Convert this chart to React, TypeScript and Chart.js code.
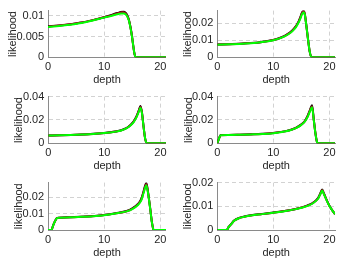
import React, { useEffect, useRef } from 'react';
import { Chart, registerables } from 'chart.js';
Chart.register(...registerables);

// ---------- data ----------
const xTickValues = [0, 10, 20];
const xMax = 21;

const depth1 = [0, 2, 4, 6, 8, 10, 11, 12, 12.6, 13.1, 13.5, 13.8, 14.1, 14.4, 14.7, 15, 15.2, 15.4, 15.6, 16, 21];
const green1 = [0.0073, 0.0076, 0.0079, 0.0083, 0.0089, 0.0096, 0.0099, 0.0103, 0.0105, 0.0106, 0.0106, 0.0104, 0.0099, 0.0089, 0.0070, 0.0045, 0.0025, 0.0008, 0.0001, 0, 0];
const red1 = [0.0074, 0.0077, 0.0080, 0.0084, 0.0090, 0.0097, 0.0100, 0.0105, 0.0107, 0.0109, 0.0109, 0.0106, 0.0100, 0.0090, 0.0071, 0.0046, 0.0025, 0.0008, 0.0001, 0, 0];
const black1 = [0.0075, 0.0077, 0.0080, 0.0084, 0.0090, 0.0097, 0.0101, 0.0106, 0.0108, 0.0110, 0.0111, 0.0108, 0.0102, 0.0091, 0.0072, 0.0046, 0.0025, 0.0008, 0.0001, 0, 0];

const depth2 = [0, 2, 4, 6, 8, 10, 11, 12, 13, 13.5, 14, 14.5, 14.8, 15.1, 15.4, 15.6, 15.9, 16.2, 16.5, 16.8, 21];
const green2 = [0.0074, 0.0076, 0.0078, 0.0082, 0.0089, 0.0100, 0.0109, 0.0122, 0.0142, 0.0156, 0.0175, 0.0203, 0.0225, 0.0252, 0.0264, 0.0250, 0.0180, 0.0100, 0.0030, 0, 0];
const red2 = [0.0075, 0.0076, 0.0079, 0.0083, 0.0090, 0.0101, 0.0110, 0.0124, 0.0144, 0.0159, 0.0179, 0.0207, 0.0230, 0.0258, 0.0269, 0.0253, 0.0181, 0.0100, 0.0030, 0, 0];
const black2 = [0.0075, 0.0077, 0.0079, 0.0083, 0.0090, 0.0101, 0.0111, 0.0125, 0.0146, 0.0161, 0.0181, 0.0210, 0.0233, 0.0261, 0.0272, 0.0255, 0.0182, 0.0101, 0.0030, 0, 0];

const depth3 = [0, 2, 4, 6, 8, 10, 11, 12, 13, 14, 14.6, 15.2, 15.7, 16.1, 16.45, 16.7, 17, 17.3, 17.6, 21];
const green3 = [0.0066, 0.0068, 0.0071, 0.0075, 0.0080, 0.0088, 0.0093, 0.0100, 0.0110, 0.0130, 0.0150, 0.0180, 0.0220, 0.0265, 0.0305, 0.0260, 0.0140, 0.0035, 0, 0];
const red3 = [0.0066, 0.0068, 0.0071, 0.0075, 0.0080, 0.0088, 0.0093, 0.0101, 0.0111, 0.0131, 0.0152, 0.0183, 0.0224, 0.0271, 0.0314, 0.0265, 0.0142, 0.0035, 0, 0];
const black3 = [0.0066, 0.0068, 0.0071, 0.0075, 0.0081, 0.0089, 0.0094, 0.0101, 0.0112, 0.0132, 0.0154, 0.0185, 0.0227, 0.0275, 0.0320, 0.0268, 0.0143, 0.0036, 0, 0];

const depth4 = [0, 0.3, 0.6, 2, 4, 6, 8, 10, 12, 13, 14, 15, 15.6, 16.1, 16.5, 16.9, 17.2, 17.5, 17.8, 18, 21];
const green4 = [0, 0.0040, 0.0070, 0.0071, 0.0073, 0.0076, 0.0080, 0.0087, 0.0101, 0.0112, 0.0130, 0.0158, 0.0185, 0.0225, 0.0270, 0.0308, 0.0200, 0.0085, 0.0008, 0, 0];
const red4 = [0, 0.0040, 0.0070, 0.0071, 0.0073, 0.0076, 0.0080, 0.0088, 0.0102, 0.0113, 0.0131, 0.0160, 0.0188, 0.0230, 0.0277, 0.0318, 0.0205, 0.0087, 0.0008, 0, 0];
const black4 = [0, 0.0040, 0.0071, 0.0072, 0.0074, 0.0077, 0.0081, 0.0088, 0.0102, 0.0114, 0.0133, 0.0162, 0.0191, 0.0234, 0.0282, 0.0326, 0.0208, 0.0088, 0.0008, 0, 0];

const depth5 = [0, 0.6, 0.9, 1.2, 1.6, 2, 4, 6, 8, 10, 12, 14, 15, 16, 16.6, 17, 17.5, 17.8, 18.2, 18.5, 18.8, 21];
const green5 = [0, 0, 0.0025, 0.0050, 0.0072, 0.0074, 0.0077, 0.0080, 0.0084, 0.0090, 0.0100, 0.0113, 0.0127, 0.0152, 0.0180, 0.0223, 0.0272, 0.0225, 0.0125, 0.0045, 0, 0];
const red5 = [0, 0, 0.0025, 0.0050, 0.0072, 0.0074, 0.0077, 0.0080, 0.0084, 0.0091, 0.0101, 0.0114, 0.0129, 0.0155, 0.0185, 0.0229, 0.0280, 0.0229, 0.0127, 0.0046, 0, 0];
const black5 = [0, 0, 0.0026, 0.0051, 0.0073, 0.0075, 0.0078, 0.0081, 0.0085, 0.0091, 0.0102, 0.0115, 0.0131, 0.0158, 0.0189, 0.0234, 0.0286, 0.0232, 0.0128, 0.0046, 0, 0];

const depth6 = [0, 1.7, 2, 2.5, 3, 4, 5, 6, 8, 10, 12, 14, 16, 17, 18, 18.4, 18.7, 19, 19.5, 20, 20.5, 21];
const green6 = [0, 0, 0.0012, 0.0025, 0.0039, 0.0051, 0.0057, 0.0061, 0.0067, 0.0073, 0.0079, 0.0088, 0.0101, 0.0112, 0.0133, 0.0152, 0.0167, 0.0152, 0.0125, 0.0101, 0.0083, 0.0067];
const red6 = [0, 0, 0.0012, 0.0025, 0.0039, 0.0051, 0.0057, 0.0061, 0.0067, 0.0073, 0.0080, 0.0089, 0.0102, 0.0113, 0.0134, 0.0154, 0.0169, 0.0154, 0.0126, 0.0101, 0.0083, 0.0067];
const black6 = [0, 0, 0.0012, 0.0026, 0.0040, 0.0052, 0.0058, 0.0062, 0.0068, 0.0074, 0.0080, 0.0089, 0.0103, 0.0114, 0.0136, 0.0156, 0.0171, 0.0155, 0.0127, 0.0102, 0.0083, 0.0067];

const yMaxes = [0.0113, 0.0273, 0.04, 0.04, 0.0288, 0.02];
const yTicks1 = [0, 0.005, 0.01];
const yTicks2 = [0, 0.01, 0.02];
const yTicks3 = [0, 0.02, 0.04];
const yTicks4 = [0, 0.02, 0.04];
const yTicks5 = [0, 0.01, 0.02];
const yTicks6 = [0, 0.01, 0.02];

const xLabel = 'depth';
const yLabel = 'likelihood';

const panelsData = [
  { depth: depth1, green: green1, red: red1, black: black1, yTicks: yTicks1 },
  { depth: depth2, green: green2, red: red2, black: black2, yTicks: yTicks2 },
  { depth: depth3, green: green3, red: red3, black: black3, yTicks: yTicks3 },
  { depth: depth4, green: green4, red: red4, black: black4, yTicks: yTicks4 },
  { depth: depth5, green: green5, red: red5, black: black5, yTicks: yTicks5 },
  { depth: depth6, green: green6, red: red6, black: black6, yTicks: yTicks6 },
];

// ---------- layout (pixels) ----------
const CANVAS_H = 88;
const layouts = [
  { left: 0, top: 0, w: 170, plotL: 48, plotT: 7, plotR: 167.7, plotB: 57.3, yTitleX: 13.3 },
  { left: 170, top: 0, w: 169, plotL: 217.3, plotT: 7.3, plotR: 338, plotB: 57.3, yTitleX: 188.3 },
  { left: 0, top: 86, w: 170, plotL: 48.3, plotT: 94, plotR: 168, plotB: 143.3, yTitleX: 19 },
  { left: 170, top: 86, w: 169, plotL: 217.3, plotT: 94, plotR: 338, plotB: 143.3, yTitleX: 188.5 },
  { left: 0, top: 172, w: 170, plotL: 48, plotT: 180, plotR: 167.7, plotB: 230, yTitleX: 19 },
  { left: 170, top: 172, w: 169, plotL: 217.3, plotT: 180, plotR: 338, plotB: 230, yTitleX: 188 },
];

const FONT = { family: '"Liberation Sans", Arial, Helvetica, sans-serif', size: 11 };
const TEXT = '#262626';
const AXIS = '#8a8a8a';
const GRID = '#d2d2d2';

function pts(xs: number[], ys: number[]) {
  return xs.map((x, i) => ({ x, y: ys[i] }));
}

function Panel({ idx }: { idx: number }) {
  const ref = useRef<HTMLCanvasElement | null>(null);
  const L = layouts[idx];
  useEffect(() => {
    const d = panelsData[idx];
    const xh = CANVAS_H - (L.plotB - L.top);
    const lineDs = (data: number[], color: string) => ({
      data: pts(d.depth, data),
      borderColor: color,
      borderWidth: 2,
      pointRadius: 0,
      fill: false,
      cubicInterpolationMode: 'monotone' as const,
    });
    const chart = new Chart(ref.current as HTMLCanvasElement, {
      type: 'line',
      data: {
        datasets: [lineDs(d.green, '#00ff00'), lineDs(d.red, '#b00020'), lineDs(d.black, '#000000')],
      },
      options: {
        animation: false,
        responsive: false,
        maintainAspectRatio: false,
        devicePixelRatio: 1,
        layout: { padding: { left: 0, top: L.plotT - L.top, right: L.left + L.w - L.plotR, bottom: 0 } },
        plugins: { legend: { display: false }, tooltip: { enabled: false } },
        scales: {
          x: {
            type: 'linear',
            min: 0,
            max: xMax,
            afterBuildTicks: (s: any) => { s.ticks = xTickValues.map((v) => ({ value: v })); },
            afterFit: (s: any) => { s.height = xh; },
            grid: { color: GRID, lineWidth: 1, drawTicks: false },
            border: { display: true, color: AXIS, width: 1, dash: [4, 3] },
            ticks: { padding: 3.4, font: FONT, color: TEXT, autoSkip: false, maxRotation: 0, callback: (v: any) => String(v) },
            title: { display: true, text: xLabel, font: FONT, color: TEXT, padding: { top: 0, bottom: xh - 6.6 - 22.5 } },
          },
          y: {
            type: 'linear',
            min: 0,
            max: yMaxes[idx],
            afterBuildTicks: (s: any) => { s.ticks = d.yTicks.map((v) => ({ value: v })); },
            afterFit: (s: any) => { s.width = L.plotL - L.left; },
            grid: { color: GRID, lineWidth: 1, drawTicks: false },
            border: { display: true, color: AXIS, width: 1, dash: [4, 3] },
            ticks: { padding: 4, font: FONT, color: TEXT, autoSkip: false, callback: (v: any) => String(+Number(v).toFixed(4)) },
            title: { display: true, text: yLabel, font: FONT, color: TEXT, padding: { top: L.yTitleX - L.left - 6.6, bottom: 0 } },
          },
        },
      },
    } as any);
    return () => chart.destroy();
  }, [idx]);
  return (
    <canvas
      ref={ref}
      width={L.w}
      height={CANVAS_H}
      style={{ position: 'absolute', left: L.left, top: L.top, width: L.w, height: CANVAS_H }}
    />
  );
}

export default function App() {
  return (
    <div style={{ position: 'fixed', left: 0, top: 0, width: 339, height: 264, background: '#fff', overflow: 'hidden' }}>
      {layouts.map((_, i) => (
        <Panel key={i} idx={i} />
      ))}
    </div>
  );
}
